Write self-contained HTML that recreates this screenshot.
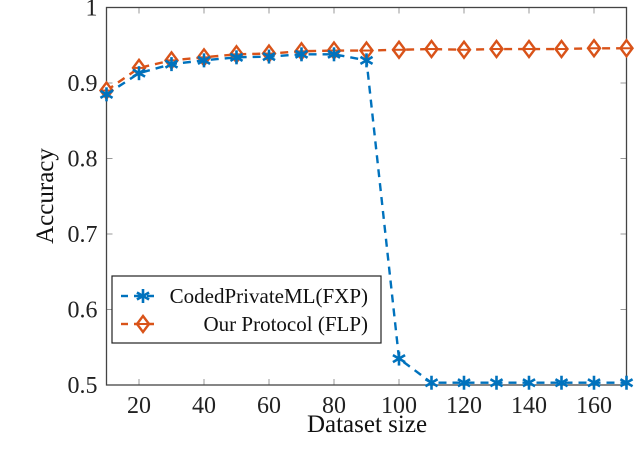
<!DOCTYPE html>
<html><head><meta charset="utf-8"><style>
body{margin:0;background:#fff;}
svg{display:block;font-family:"Liberation Serif",serif;}
</style></head><body>
<svg id="chart" width="634" height="468" xmlns="http://www.w3.org/2000/svg"></svg>
<script>
const xs=[10,20,30,40,50,60,70,80,90,100,110,120,130,140,150,160,170];
const fxp=[0.885,0.913,0.925,0.930,0.934,0.935,0.938,0.938,0.930,0.535,0.503,0.503,0.503,0.503,0.503,0.503,0.503];
const flp=[0.890,0.920,0.930,0.934,0.938,0.939,0.942,0.943,0.943,0.944,0.945,0.944,0.945,0.945,0.945,0.946,0.946];
const xTicks=[20,40,60,80,100,120,140,160];
const yTicks=[0.5,0.6,0.7,0.8,0.9,1];
const yLabels=["0.5","0.6","0.7","0.8","0.9","1"];
const L=106.5,R=626.5,T=7.5,B=385;
const X=v=>L+(v-10)/160*(R-L);
const Y=v=>B-(v-0.5)/0.5*(B-T);
const svg=document.getElementById('chart');
const NS='http://www.w3.org/2000/svg';
function mk(tag,attrs,parent){const e=document.createElementNS(NS,tag);for(const k in attrs)e.setAttribute(k,attrs[k]);(parent||svg).appendChild(e);return e;}
const BLUE='#0072BD',ORANGE='#D95319';
xTicks.forEach((t,i)=>{
 const g=mk('g',{});
 
 
 mk('line',{x1:X(t),x2:X(t),y1:B,y2:B-6,stroke:'#999','stroke-width':1},g);
 mk('line',{x1:X(t),x2:X(t),y1:T,y2:T+6,stroke:'#999','stroke-width':1},g);
 const tx=mk('text',{x:X(t),y:413,'text-anchor':'middle','font-size':24,fill:'#222'},g);tx.textContent=t;
});
yTicks.forEach((t,i)=>{
 const g=mk('g',{});
 
 
 mk('line',{x1:L,x2:L+6,y1:Y(t),y2:Y(t),stroke:'#999','stroke-width':1},g);
 mk('line',{x1:R,x2:R-6,y1:Y(t),y2:Y(t),stroke:'#999','stroke-width':1},g);
 const tx=mk('text',{x:L-9,y:Y(t)+8,'text-anchor':'end','font-size':24,fill:'#222'},g);tx.textContent=yLabels[i];
});
const frame=mk('rect',{x:L,y:T,width:R-L,height:B-T,fill:'none',stroke:'#444','stroke-width':1.3});


const xt=mk('text',{x:367,y:432,'text-anchor':'middle','font-size':25,fill:'#111'});xt.textContent='Dataset size';


const yt=mk('text',{x:0,y:0,'text-anchor':'middle','font-size':25,fill:'#111',transform:'translate(53,196) rotate(-90)'});yt.textContent='Accuracy';


function star(g,cx,cy,c){for(let a=0;a<3;a++){const ang=Math.PI/2+a*Math.PI/3;mk('line',{x1:cx+7*Math.cos(ang),y1:cy+7*Math.sin(ang),x2:cx-7*Math.cos(ang),y2:cy-7*Math.sin(ang),stroke:c,'stroke-width':2.6},g);}}
function diamond(g,cx,cy,c){mk('polygon',{points:`${cx},${cy-8} ${cx+6},${cy} ${cx},${cy+8} ${cx-6},${cy}`,fill:'#fff',stroke:c,'stroke-width':2.4},g);mk('line',{x1:cx-6,x2:cx+6,y1:cy,y2:cy,stroke:c,'stroke-width':2},g);}
function series(vals,c,marker,name){
 const g=mk('g',{});
 
 
 mk('polyline',{points:xs.map((x,i)=>X(x)+','+Y(vals[i])).join(' '),fill:'none',stroke:c,'stroke-width':2.4,'stroke-dasharray':'8,6'},g);
 xs.forEach((x,i)=>marker(g,X(x),Y(vals[i]),c));
}
series(flp,ORANGE,diamond,'series-our-protocol-flp');
series(fxp,BLUE,star,'series-codedprivateml-fxp');
const lg=mk('g',{});


mk('rect',{x:112,y:276,width:269,height:67,fill:'#fff',stroke:'#222','stroke-width':1.2},lg);
const e1=mk('g',{},lg);


mk('line',{x1:121,x2:160,y1:296,y2:296,stroke:BLUE,'stroke-width':2.4,'stroke-dasharray':'7,6'},e1);
star(e1,143,296,BLUE);
const t1=mk('text',{x:368,y:303,'text-anchor':'end','font-size':21,fill:'#111'},e1);t1.textContent='CodedPrivateML(FXP)';
const e2=mk('g',{},lg);


mk('line',{x1:121,x2:160,y1:324,y2:324,stroke:ORANGE,'stroke-width':2.4,'stroke-dasharray':'7,6'},e2);
diamond(e2,143,324,ORANGE);
const t2=mk('text',{x:368,y:331,'text-anchor':'end','font-size':21,fill:'#111'},e2);t2.textContent='Our Protocol (FLP)';
</script>
</body></html>
